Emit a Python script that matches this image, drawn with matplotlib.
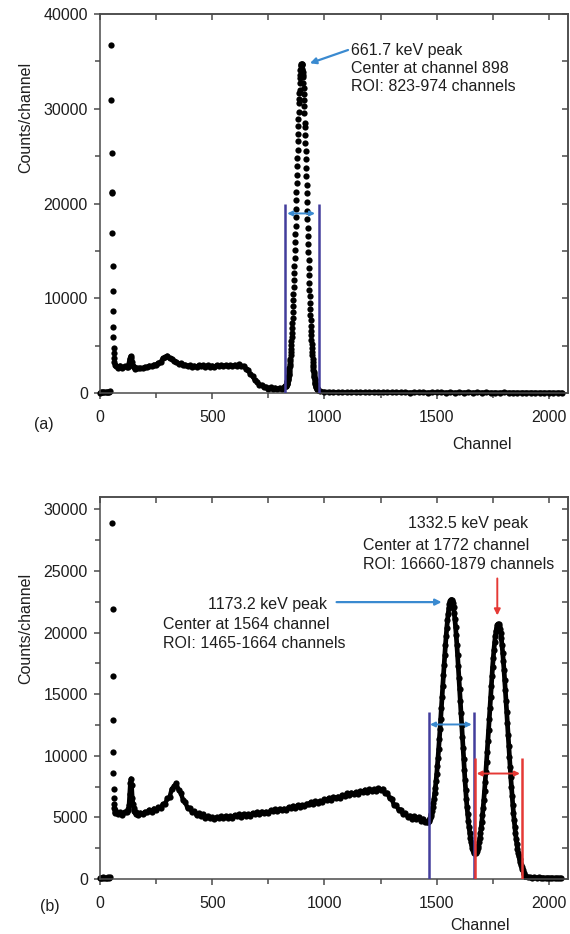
import numpy as np
import matplotlib
matplotlib.use("Agg")
import matplotlib.pyplot as plt
from matplotlib.ticker import MultipleLocator

plt.rcParams['font.family'] = ['Liberation Sans', 'DejaVu Sans']
plt.rcParams['font.size'] = 11.5

# ---------------- (a) Cs-137 spectrum ----------------
a_floor_ch = np.arange(0, 50, 5)
a_floor = [40, 90, 60, 120, 80, 100, 70, 130, 90, 160]

a_spike_ch = np.arange(50, 66)
a_spike = [36700, 30900, 25300, 21200, 21100, 16900, 13400, 10800,
           8700, 7000, 5900, 4800, 4200, 3700, 3300, 3000]

a_cont_ch = np.r_[70:120:10, 120:160:4, 160:830:10]
a_cont = [2880, 2680, 2900, 2610, 2820,
          2760, 2740, 3100, 3600, 3880, 3720, 3300, 2880, 2760, 2580,
          2680, 2590, 2660, 2610, 2750, 2720, 2890, 2810, 3000, 2940,
          3190, 3260, 3670, 3760, 3940, 3650, 3630, 3360, 3290, 3060,
          3120, 2920, 2990, 2810, 2930, 2790, 2880, 2760, 2910, 2810,
          2940, 2780, 2920, 2790, 2890, 2770, 2920, 2820, 2950, 2800,
          2950, 2820, 2920, 2810, 2970, 2880, 3010, 2810, 2860, 2540,
          2390, 1960, 1770, 1340, 1210, 850, 860, 620, 650, 470,
          590, 450, 560, 390, 550, 430, 600]

a_peak_ch = np.arange(826, 971)
a_peak = [710, 740, 790, 830, 890, 940, 1000, 1080, 1160, 1240,
          1340, 1460, 1570, 1710, 1860, 2020, 2200, 2380, 2600, 2830,
          3080, 3350, 3640, 3960, 4290, 4660, 5040, 5460, 5900, 6380,
          6870, 7410, 7960, 8550, 9160, 9810, 10480, 11180, 11900, 12660,
          13440, 14240, 15060, 15910, 16760, 17640, 18530, 19420, 20330, 21240,
          22140, 23050, 23940, 24830, 25690, 26550, 27370, 28180, 28950, 29690,
          30600, 31050, 31660, 32000, 32740, 33210, 33600, 34100, 34230, 34460,
          34610, 34710, 34740, 34700, 34600, 34100, 34200, 33910, 33550, 33400,
          32680, 32150, 31580, 30960, 30300, 29580, 28500, 28060, 27250, 26410,
          25550, 24680, 23790, 22880, 21970, 21060, 20150, 19230, 18330, 17430,
          16550, 15690, 14840, 14010, 13200, 12410, 11650, 10920, 10220, 9540,
          8890, 8270, 7680, 7120, 6570, 6070, 5590, 5140, 4720, 4330,
          3960, 3620, 3300, 3000, 2730, 2470, 2240, 2020, 1830, 1650,
          1480, 1330, 1190, 1070, 950, 850, 760, 680, 600, 540,
          480, 420, 380, 330, 300]

a_tail_ch = np.arange(980, 2061, 20)
a_tail = [200, 130, 100, 90, 70, 80, 60, 75, 65, 80,
          60, 70, 55, 75, 60, 70, 55, 65, 60, 70,
          50, 65, 55, 60, 50, 65, 55, 60, 50, 60,
          45, 55, 50, 60, 45, 55, 50, 55, 45, 50,
          40, 55, 45, 50, 40, 50, 45, 50, 40, 45,
          40, 50, 35, 45, 40]

a_roi = [823, 974]
a_peak_label = ["661.7 keV peak", "Center at channel 898", "ROI: 823-974 channels"]

# ---------------- (b) Co-60 spectrum ----------------
b_floor_ch = np.arange(0, 50, 5)
b_floor = [80, 120, 60, 140, 90, 110, 70, 130, 100, 150]

b_spike_ch = np.arange(55, 68)
b_spike = [28900, 21900, 16500, 12900, 10300, 8600, 7300, 6600,
           6100, 5800, 5600, 5450, 5350]

b_cont_ch = np.r_[70:120:10, 120:160:3, 160:1460:10]
b_cont = [5470, 5260, 5410, 5220, 5450,
          5420, 5560, 5650, 6000, 6900, 7800, 8150, 7600, 6600, 6100,
          5800, 5550, 5450, 5300,
          5470, 5210, 5380, 5250, 5450, 5400, 5620, 5450, 5720, 5610,
          5810, 5750, 6080, 6100, 6540, 6640, 7320, 7510, 7760, 7220,
          7000, 6400, 6240, 5740, 5770, 5410, 5480, 5170, 5350, 5100,
          5260, 4940, 5120, 4910, 5010, 4850, 5030, 4930, 5100, 4910,
          5120, 4970, 5100, 4970, 5180, 5090, 5260, 5070, 5280, 5130,
          5260, 5130, 5350, 5260, 5440, 5250, 5470, 5330, 5460, 5340,
          5560, 5480, 5660, 5490, 5700, 5570, 5710, 5600, 5820, 5750,
          5930, 5760, 5980, 5860, 6000, 5900, 6120, 6060, 6240, 6080,
          6310, 6190, 6330, 6230, 6460, 6400, 6580, 6430, 6660, 6550,
          6690, 6600, 6820, 6760, 6940, 6780, 7010, 6880, 7020, 6910,
          7140, 7050, 7240, 7050, 7270, 7130, 7270, 7150, 7360, 7200,
          7320, 6940, 7000, 6560, 6460, 6000, 5980, 5620, 5640, 5250,
          5360, 5060, 5140, 4900, 5080, 4890, 5040, 4730, 4890, 4610]

b_peak_ch = np.arange(1458, 1903, 3)
b_peak = [4640, 4660, 4700, 4790, 4920, 5090, 5290, 5530, 5810, 6140,
          6510, 6940, 7410, 7930, 8500, 9150, 9850, 10590, 11370, 12180,
          13020, 13890, 14760, 15650, 16520, 17370, 18200, 18990, 19720, 20400,
          20990, 21510, 21960, 22300, 22530, 22660, 22680, 22580, 22370, 22050,
          21620, 21090, 20480, 19780, 19000, 18170, 17280, 16350, 15400, 14440,
          13470, 12510, 11560, 10630, 9730, 8860, 8030, 7250, 6510, 5830,
          5280, 4720, 4210, 3760, 3360, 3020, 2740, 2510, 2330, 2200,
          2120, 2080, 2100, 2180, 2310, 2490, 2710, 2990, 3320, 3710,
          4150, 4640, 5180, 5780, 6430, 7130, 7870, 8660, 9480, 10330,
          11200, 12090, 13000, 13890, 14780, 15640, 16460, 17240, 17960, 18620,
          19200, 19690, 20090, 20390, 20590, 20680, 20660, 20530, 20290, 19950,
          19520, 18990, 18380, 17690, 16950, 16140, 15300, 14420, 13530, 12620,
          11720, 10820, 9940, 9080, 8260, 7480, 6730, 6040, 5380, 4780,
          4220, 3720, 3260, 2840, 2470, 2140, 1850, 1590, 1360, 1170,
          1000, 850, 690, 520, 380, 270, 200, 160, 140]

b_tail_ch = np.arange(1905, 2061, 10)
b_tail = [130, 150, 110, 140, 100, 130, 95, 120, 90, 115, 85, 110, 80, 100, 75, 90]

b_roi_1173 = [1465, 1664]
b_roi_1332 = [1670, 1881]
b_label_1173 = ["1173.2 keV peak", "Center at 1564 channel", "ROI: 1465-1664 channels"]
b_label_1332 = ["1332.5 keV peak", "Center at 1772 channel", "ROI: 16660-1879 channels"]

# ---------------- drawing ----------------
W, H = 570, 934
fig = plt.figure(figsize=(W / 100, H / 100), dpi=100)

SPINE = '#4a4a4a'
TXT = '#1e1e1e'
ROI_BLUE = '#433d9c'
ARROW_BLUE = '#3a8ad0'
RED = '#e53935'


def px_axes(left, top, right, bottom):
    return fig.add_axes([left / W, 1 - bottom / H, (right - left) / W, (bottom - top) / H])


def style(ax, ymax, ymajor, yminor):
    ax.set_xlim(0, 2085)
    ax.set_ylim(0, ymax)
    ax.xaxis.set_major_locator(MultipleLocator(500))
    ax.xaxis.set_minor_locator(MultipleLocator(250))
    ax.yaxis.set_major_locator(MultipleLocator(ymajor))
    ax.yaxis.set_minor_locator(MultipleLocator(yminor))
    ax.tick_params(which='both', direction='out', color=SPINE, width=1.1, labelcolor=TXT)
    ax.tick_params(which='major', length=4.2)
    ax.tick_params(which='minor', length=3.4)
    ax.tick_params(axis='x', pad=8)
    ax.tick_params(axis='y', pad=4.5)
    for s in ax.spines.values():
        s.set_color(SPINE)
        s.set_linewidth(1.1)
    top = ax.secondary_xaxis('top')
    top.xaxis.set_major_locator(MultipleLocator(250))
    top.tick_params(direction='in', length=4, width=1.1, color=SPINE, labeltop=False)
    top.spines['top'].set_color(SPINE)
    top.spines['top'].set_linewidth(1.1)
    right = ax.secondary_yaxis('right')
    right.yaxis.set_major_locator(MultipleLocator(yminor))
    right.tick_params(direction='in', length=4, width=1.1, color=SPINE, labelright=False)
    right.spines['right'].set_color(SPINE)
    right.spines['right'].set_linewidth(1.1)


dot = dict(ls='none', marker='o', ms=4.5, mfc='black', mec='black', mew=0)
band = dict(color='black', lw=3.2, solid_capstyle='round')

# panel (a)
ax_a = px_axes(100, 14, 568, 393)
style(ax_a, 40000, 10000, 5000)
ax_a.plot(a_floor_ch, a_floor, clip_on=False, **dot)
ax_a.plot(a_spike_ch, a_spike, **dot)
ax_a.plot(a_cont_ch, a_cont, **band)
ax_a.plot(a_cont_ch, a_cont, **dot)
ax_a.plot(a_peak_ch, a_peak, **dot)
ax_a.plot(a_tail_ch, a_tail, clip_on=False, **band)
ax_a.plot(a_tail_ch, a_tail, clip_on=False, **dot)

ax_a.vlines(a_roi, 0, 20000, color=ROI_BLUE, lw=1.8, zorder=3)
ax_a.annotate('', xy=(a_roi[0] + 11, 18950), xytext=(a_roi[1] - 16, 18950),
              arrowprops=dict(arrowstyle='<|-|>', color=ARROW_BLUE, lw=1.4,
                              mutation_scale=7, shrinkA=0, shrinkB=0))
ax_a.annotate('', xy=(935, 34800), xytext=(1105, 36200),
              arrowprops=dict(arrowstyle='-|>', color=ARROW_BLUE, lw=1.6,
                              mutation_scale=9, shrinkA=0, shrinkB=0))
for line, yv in zip(a_peak_label, [36200, 34270, 32330]):
    ax_a.text(1118, yv, line, ha='left', va='center', color=TXT)

# panel (b)
ax_b = px_axes(100, 497, 568, 879)
style(ax_b, 31000, 5000, 2500)
ax_b.plot(b_floor_ch, b_floor, clip_on=False, **dot)
ax_b.plot(b_spike_ch, b_spike, **dot)
ax_b.plot(b_cont_ch, b_cont, **band)
ax_b.plot(b_cont_ch, b_cont, **dot)
ax_b.plot(b_peak_ch, b_peak, color='black', lw=3.4)
ax_b.plot(b_peak_ch, b_peak, **dot)
ax_b.plot(b_tail_ch, b_tail, clip_on=False, **band)
ax_b.plot(b_tail_ch, b_tail, clip_on=False, **dot)

ax_b.vlines(b_roi_1173, 0, 13560, color=ROI_BLUE, lw=1.8, zorder=3)
ax_b.vlines(b_roi_1332, 0, 9780, color=RED, lw=1.8, zorder=3)
ax_b.annotate('', xy=(b_roi_1173[0] + 5, 12540), xytext=(b_roi_1173[1] - 8, 12540),
              arrowprops=dict(arrowstyle='<|-|>', color=ARROW_BLUE, lw=1.4,
                              mutation_scale=7, shrinkA=0, shrinkB=0))
ax_b.annotate('', xy=(b_roi_1332[0] + 8, 8560), xytext=(b_roi_1332[1] - 10, 8560),
              arrowprops=dict(arrowstyle='<|-|>', color=RED, lw=1.4,
                              mutation_scale=7, shrinkA=0, shrinkB=0))
ax_b.annotate('', xy=(1522, 22470), xytext=(1054, 22470),
              arrowprops=dict(arrowstyle='-|>', color=ARROW_BLUE, lw=1.6,
                              mutation_scale=9, shrinkA=0, shrinkB=0))
ax_b.annotate('', xy=(1770, 21390), xytext=(1770, 24390),
              arrowprops=dict(arrowstyle='-|>', color=RED, lw=1.4,
                              mutation_scale=9, shrinkA=0, shrinkB=0))
ax_b.text(482, 22290, b_label_1173[0], ha='left', va='center', color=TXT)
ax_b.text(282, 20660, b_label_1173[1], ha='left', va='center', color=TXT)
ax_b.text(282, 19120, b_label_1173[2], ha='left', va='center', color=TXT)
ax_b.text(1373, 28825, b_label_1332[0], ha='left', va='center', color=TXT)
ax_b.text(1173, 27070, b_label_1332[1], ha='left', va='center', color=TXT)
ax_b.text(1173, 25530, b_label_1332[2], ha='left', va='center', color=TXT)

# shared labels placed in figure pixels
def fig_text(x, y, s, **kw):
    fig.text(x / W, 1 - y / H, s, ha='center', va='center', color=TXT, **kw)

fig_text(26, 117, 'Counts/channel', rotation=90)
fig_text(26, 628, 'Counts/channel', rotation=90)
fig_text(482, 444, 'Channel')
fig_text(480, 926, 'Channel')
fig_text(44, 425, '(a)')
fig_text(50, 906, '(b)')

fig.savefig('out.png', dpi=100)
